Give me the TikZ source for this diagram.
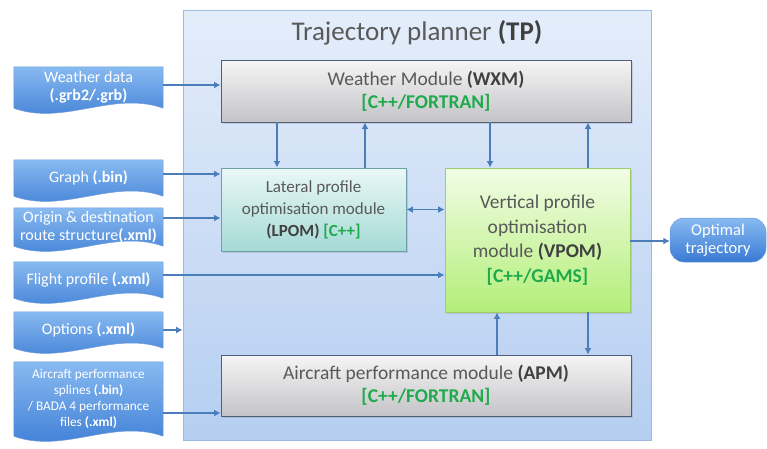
\documentclass[tikz,border=0pt]{standalone}
\usepackage{fontspec}
\setmainfont{Carlito}
\usetikzlibrary{arrows.meta,calc,shadows,backgrounds}

\definecolor{docTop}{HTML}{88BAF1}
\definecolor{docBot}{HTML}{3A7AD4}
\definecolor{docLine}{HTML}{6E9DDA}
\definecolor{linkBlue}{HTML}{4A7EBB}
\definecolor{tpTop}{HTML}{E4EDFA}
\definecolor{tpBot}{HTML}{B5CEF1}
\definecolor{tpLine}{HTML}{9DB9E0}
\definecolor{modTop}{HTML}{F5F5F5}
\definecolor{modBot}{HTML}{C4C4C8}
\definecolor{modLine}{HTML}{4F5F7A}
\definecolor{latTop}{HTML}{E9F8F7}
\definecolor{latBot}{HTML}{A5DAD5}
\definecolor{latLine}{HTML}{6F9FA6}
\definecolor{verTop}{HTML}{F2FDE6}
\definecolor{verBot}{HTML}{B3EE78}
\definecolor{verLine}{HTML}{9BCF68}
\definecolor{txtGray}{HTML}{595959}
\definecolor{txtDark}{HTML}{404040}
\definecolor{langGreen}{HTML}{1FAA4C}

\newcommand\hl[1]{{\bfseries\color{txtDark}#1}}
\newcommand\lang[1]{{\bfseries\color{langGreen}#1}}
\newcommand\wb[1]{{\bfseries #1}}

% document-style input box with wavy lower edge, drawn behind its node
\newcommand\docshape[1]{%
  \begin{pgfonlayer}{background}
    \path[top color=docTop, bottom color=docBot, draw=docLine, line width=0.5pt]
      (#1.north west) -- (#1.north east) -- (#1.south east)
      .. controls +(-50,-18) and +(50,18) .. (#1.south west) -- cycle;
  \end{pgfonlayer}}

\tikzset{
  docnode/.style={minimum width=149pt, inner sep=0pt, text=white, align=center,
    font=\fontsize{16}{18.5}\selectfont},
  module/.style={draw=modLine, line width=0.9pt, top color=modTop, bottom color=modBot,
    text=txtGray, align=center, inner sep=0pt,
    drop shadow={opacity=0.25, shadow xshift=1.5pt, shadow yshift=-2pt},
    font=\fontsize{19.5}{23}\selectfont},
  lateral/.style={module, draw=latLine, top color=latTop, bottom color=latBot,
    font=\fontsize{17}{22}\selectfont},
  vertical/.style={module, draw=verLine, top color=verTop, bottom color=verBot,
    font=\fontsize{19.5}{24.5}\selectfont},
  tip/.tip={Latex[length=6.5pt,width=7pt]},
  link/.style={draw=linkBlue, line width=1.8pt, -tip},
  twoway/.style={link, tip-tip}
}

\begin{document}
\begin{tikzpicture}[x=1pt,y=-1pt]
\useasboundingbox (0,0) rectangle (767,448);

% trajectory planner container
\node[draw=tpLine, line width=0.8pt, top color=tpTop, bottom color=tpBot,
      minimum width=468pt, minimum height=430pt, inner sep=0pt] (tp) at (417,225) {};
\node[text=txtGray, font=\fontsize{27}{32}\selectfont] (tptitle) at (417,33)
  {Trajectory planner \hl{(TP)}};

% modules
\node[module, minimum width=410pt, minimum height=62pt] (wxm) at (426,91)
  {Weather Module \hl{(WXM)}\\ \lang{[C++/FORTRAN]}};
\node[lateral, minimum width=185pt, minimum height=83pt] (lpom) at (313.5,209.5)
  {Lateral profile\\ optimisation module\\ \hl{(LPOM)} \lang{[C++]}};
\node[vertical, minimum width=185pt, minimum height=144pt] (vpom) at (537.5,240)
  {Vertical profile\\ optimisation\\ module \hl{(VPOM)}\\ \lang{[C++/GAMS]}};
\node[module, minimum width=410pt, minimum height=61pt] (apm) at (426,385.5)
  {Aircraft performance module \hl{(APM)}\\ \lang{[C++/FORTRAN]}};

% input files
\node[docnode, minimum height=41pt] (wd) at (88.5,87.5)
  {Weather data\\ \wb{(.grb2/.grb)}};
\node[docnode, minimum height=36pt] (graph) at (88.5,178) {Graph \wb{(.bin)}};
\node[docnode, minimum height=38pt] (od) at (88.5,227)
  {Origin \& destination\\ route structure\wb{(.xml)}};
\node[docnode, minimum height=36pt] (fp) at (88.5,280) {Flight profile \wb{(.xml)}};
\node[docnode, minimum height=36pt] (opts) at (88.5,330) {Options \wb{(.xml)}};
\node[docnode, minimum height=74pt, font=\fontsize{13.3}{15.8}\selectfont] (acp) at (88.5,399)
  {Aircraft performance\\ splines \wb{(.bin)}\\ / BADA 4 performance\\ files \wb{(.xml)}};
\foreach \n in {wd,graph,od,fp,opts,acp} {\docshape{\n}}

% output
\node[rounded corners=14pt, draw=docLine, line width=0.5pt, top color=docTop,
      bottom color=docBot, text=white, align=center, minimum width=96pt,
      minimum height=44pt, inner sep=0pt, font=\fontsize{16.5}{18}\selectfont]
  (out) at (718,240) {Optimal\\ trajectory};

% input links
\draw[link] ([yshift=2.5pt]wd.east) -- ([yshift=2.5pt]wd.east -| wxm.west);
\draw[link] ([yshift=4pt]graph.east) -- ([yshift=4pt]graph.east -| lpom.west);
\draw[link] ([yshift=9pt]od.east) -- ([yshift=9pt]od.east -| lpom.west);
\draw[link] ([yshift=5pt]fp.east) -- ([yshift=5pt]fp.east -| vpom.west);
\draw[link] (opts.east) -- (opts.east -| tp.west);
\draw[link] ([yshift=-14pt]acp.east) -- ([yshift=-14pt]acp.east -| apm.west);

% links between modules
\draw[link] ([xshift=-36.5pt]lpom.north |- wxm.south) -- ([xshift=-36.5pt]lpom.north);
\draw[link] ([xshift=51.5pt]lpom.north) -- ([xshift=51.5pt]lpom.north |- wxm.south);
\draw[link] ([xshift=-47.5pt]vpom.north |- wxm.south) -- ([xshift=-47.5pt]vpom.north);
\draw[link] ([xshift=50.5pt]vpom.north) -- ([xshift=50.5pt]vpom.north |- wxm.south);
\draw[twoway] (lpom.east) -- (lpom.east -| vpom.west);
\draw[link] ([xshift=-40.5pt]vpom.south |- apm.north) -- ([xshift=-40.5pt]vpom.south);
\draw[link] ([xshift=50.5pt]vpom.south) -- ([xshift=50.5pt]vpom.south |- apm.north);
\draw[link] ([yshift=-1pt]vpom.east) -- ([yshift=-1pt]vpom.east -| out.west);
\end{tikzpicture}
\end{document}
